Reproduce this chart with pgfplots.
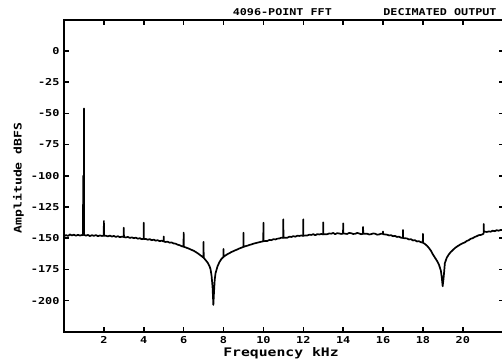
\documentclass[border=0pt]{standalone}
\usepackage{fontspec}
\usepackage{pgfplots}
\pgfplotsset{compat=1.18}
\newfontfamily\mono[FakeStretch=1.25]{DejaVu Sans Mono}
\begin{document}
\begin{tikzpicture}
\begin{axis}[
  scale only axis,
  width=439.7pt, height=312pt,
  xmin=0, xmax=22.05, ymin=-225, ymax=25,
  xtick={2,4,...,20}, ytick={-200,-175,...,0},
  tick align=inside, tick pos=both,
  major tick length=5pt,
  every tick/.style={line width=1.5pt, black},
  axis line style={line width=1.8pt},
  /pgf/number format/assume math mode=true,
  ticklabel style={font=\mono\bfseries\fontsize{9.5}{10}\selectfont},
  xticklabel style={yshift=-1pt},
  yticklabel style={xshift=-1pt},
  xlabel={Frequency kHz},
  ylabel={Amplitude dBFS},
  xlabel style={font=\mono\bfseries\fontsize{11.8}{12}\selectfont, at={(axis description cs:0.4935,0)}, anchor=base, yshift=-25pt},
  ylabel style={font=\mono\bfseries\fontsize{10.5}{11}\selectfont, at={(axis description cs:-0.1035,0.493)}, anchor=center},
  clip=false,
]
\addplot[black, line width=1.7pt, line join=round] coordinates {
(0.00,-148.5) (0.10,-147.5) (0.20,-148.2) (0.30,-147.0) (0.40,-147.8) (0.50,-147.2)
(0.60,-148.0) (0.70,-147.3) (0.80,-147.9) (0.90,-147.5)
(0.955,-147.6) (0.96,-100) (0.965,-147.2) (0.995,-147.4) (1.0,-46) (1.005,-147.3)
(1.1,-148.0) (1.2,-147.4) (1.3,-148.3) (1.4,-147.6) (1.5,-148.1) (1.6,-147.5)
(1.7,-148.4) (1.8,-147.8) (1.9,-148.2)
(1.995,-148.0) (2.0,-136.2) (2.005,-148.1)
(2.1,-148.0) (2.2,-148.6) (2.3,-147.9) (2.4,-148.7) (2.5,-148.2) (2.6,-149.0)
(2.7,-148.4) (2.8,-149.2) (2.9,-148.8)
(2.995,-149.0) (3.0,-141.6) (3.005,-149.1)
(3.1,-149.4) (3.2,-149.0) (3.3,-149.8) (3.4,-149.3) (3.5,-150.0) (3.6,-149.6)
(3.7,-150.4) (3.8,-150.0) (3.9,-150.8)
(3.995,-150.5) (4.0,-137.6) (4.005,-150.6)
(4.1,-150.6) (4.2,-151.2) (4.3,-150.8) (4.4,-151.6) (4.5,-151.2) (4.6,-152.0)
(4.7,-151.6) (4.8,-152.4) (4.9,-152.0)
(4.995,-152.6) (5.0,-148.6) (5.005,-152.7)
(5.1,-153.0) (5.2,-152.8) (5.3,-153.6) (5.4,-153.4) (5.5,-154.2) (5.6,-154.4)
(5.7,-155.2) (5.8,-155.6) (5.9,-156.4)
(5.995,-156.8) (6.0,-145.6) (6.005,-156.9)
(6.1,-157.4) (6.2,-158.0) (6.3,-158.6) (6.4,-159.4) (6.5,-160.0) (6.6,-161.0)
(6.7,-162.0) (6.8,-163.2) (6.9,-164.4)
(6.995,-165.6) (7.0,-153.0) (7.005,-165.7)
(7.1,-167.5) (7.2,-169.5) (7.3,-172.5) (7.35,-175) (7.4,-180) (7.45,-189)
(7.49,-203.5) (7.52,-194) (7.56,-183) (7.6,-178) (7.7,-172.5) (7.8,-169)
(7.9,-166.5)
(7.995,-165.0) (8.0,-158.7) (8.005,-164.9)
(8.1,-163.8) (8.2,-162.8) (8.3,-162.0) (8.4,-161.0) (8.5,-160.4) (8.6,-159.6)
(8.7,-159.0) (8.8,-158.2) (8.9,-157.6)
(8.995,-157.0) (9.0,-145.6) (9.005,-157.0)
(9.1,-156.4) (9.2,-156.0) (9.3,-155.4) (9.4,-155.0) (9.5,-154.4) (9.6,-154.0)
(9.7,-153.6) (9.8,-153.2) (9.9,-152.8)
(9.995,-152.5) (10.0,-137.6) (10.005,-152.4)
(10.2,-152.2) (10.3,-151.4) (10.4,-151.6) (10.5,-150.8) (10.6,-151.0) (10.7,-150.4) (10.8,-150.2) (10.9,-149.6)
(10.995,-149.8) (11.0,-134.9) (11.005,-149.7)
(11.2,-149.6) (11.3,-148.8) (11.4,-149.0) (11.5,-148.4) (11.6,-148.8) (11.7,-148.0) (11.8,-148.2) (11.9,-147.8)
(11.995,-148.2) (12.0,-134.9) (12.005,-148.0)
(12.2,-147.8) (12.3,-147.2) (12.4,-147.4) (12.5,-146.8) (12.6,-147.6) (12.7,-146.8) (12.8,-147.0) (12.9,-146.6)
(12.995,-147.0) (13.0,-137.3) (13.005,-146.9)
(13.2,-146.8) (13.3,-146.2) (13.4,-146.4) (13.5,-145.8) (13.6,-146.8) (13.7,-146.0) (13.8,-146.2) (13.9,-146.6)
(13.995,-146.3) (14.0,-138.1) (14.005,-146.2)
(14.2,-146.6) (14.3,-145.8) (14.4,-146.0) (14.5,-146.6) (14.6,-146.5) (14.7,-145.8) (14.8,-146.2) (14.9,-146.8)
(14.995,-146.5) (15.0,-141.0) (15.005,-146.4)
(15.2,-146.4) (15.3,-147.0) (15.4,-146.8) (15.5,-146.2) (15.6,-146.4) (15.7,-147.2) (15.8,-147.0) (15.9,-146.4)
(15.995,-146.6) (16.0,-144.6) (16.005,-146.8)
(16.2,-147.2) (16.3,-147.8) (16.4,-147.6) (16.5,-148.4) (16.6,-148.2) (16.7,-149.0) (16.8,-148.8) (16.9,-149.6)
(16.995,-149.8) (17.0,-143.4) (17.005,-149.9)
(17.2,-150.2) (17.3,-151.0) (17.4,-150.8) (17.5,-151.8) (17.6,-151.6) (17.7,-152.6) (17.8,-152.4) (17.9,-153.2)
(17.995,-153.6) (18.0,-146.5) (18.005,-153.7)
(18.1,-154.6) (18.2,-156.0) (18.3,-157.8) (18.4,-160.0) (18.5,-163.0) (18.6,-165.5)
(18.7,-168.0) (18.8,-171.0) (18.9,-176.0) (18.95,-182.0) (18.99,-188.5) (19.03,-183.0)
(19.07,-176.0) (19.1,-170.0) (19.2,-165.5) (19.3,-163.0) (19.4,-161.0) (19.5,-159.5)
(19.6,-158.0) (19.7,-156.8) (19.8,-155.8) (19.9,-154.8) (20.0,-154.0) (20.1,-153.4)
(20.2,-152.2) (20.3,-151.6) (20.4,-150.4) (20.5,-150.0) (20.6,-149.0) (20.7,-148.4)
(20.8,-147.6) (20.9,-147.4) (21.0,-146.8)
(21.045,-146.4) (21.05,-138.6) (21.055,-144.6)
(21.2,-145.0) (21.3,-144.6) (21.4,-144.8) (21.5,-144.0) (21.6,-144.4) (21.7,-143.6)
(21.8,-144.0) (21.9,-143.4) (22.05,-143.6)
};
\node[font=\mono\bfseries\fontsize{9.4}{10}\selectfont, anchor=base] at (axis cs:10.95,25) [yshift=4.8pt] {4096-POINT FFT};
\node[font=\mono\bfseries\fontsize{9.4}{10}\selectfont, anchor=base east] at (axis cs:21.87,25) [yshift=4.8pt] {DECIMATED OUTPUT};
\coordinate (bbsw) at (axis cs:-3.21,-250.0);
\coordinate (bbne) at (axis cs:21.966,40.87);
\end{axis}
\pgfresetboundingbox
\path[use as bounding box] (bbsw) rectangle (bbne);
\end{tikzpicture}
\end{document}
